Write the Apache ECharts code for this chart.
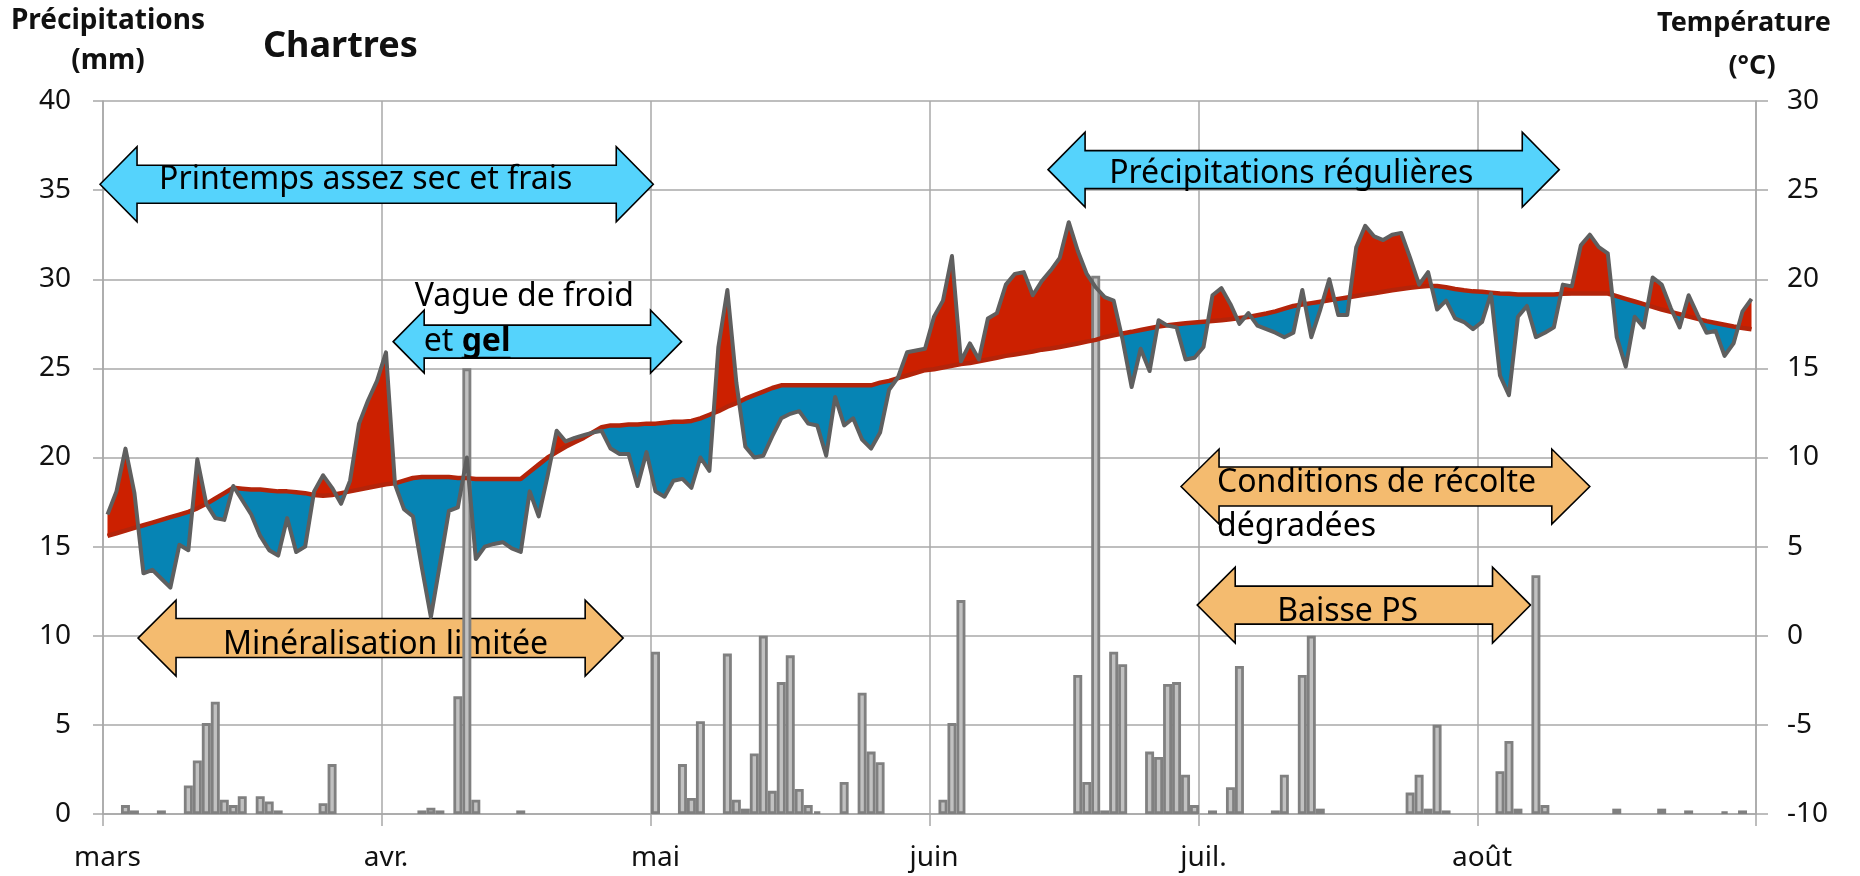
<!DOCTYPE html>
<html lang="fr">
<head>
<meta charset="utf-8">
<title>Chartres - précipitations et températures</title>
<script src="https://cdn.jsdelivr.net/npm/echarts@6/dist/echarts.min.js"></script>
<style>
  html, body { margin: 0; padding: 0; background: #fff; }
  #chart { width: 1860px; height: 876px; }
</style>
</head>
<body>
<div id="chart"></div>
<script>
// mois affichés et nombre de jours
const months = ['mars', 'avr.', 'mai', 'juin', 'juil.', 'août'];
const monthDays = [31, 30, 31, 30, 31, 31];

// précipitations journalières (mm)
const rainMar = [0, 0, 0.5, 0.2, 0, 0, 0.2, 0, 0, 1.6, 3.0, 5.1, 6.3, 0.8, 0.5, 1.0, 0, 1.0, 0.7, 0.2, 0, 0, 0, 0, 0.6, 2.8, 0, 0, 0, 0, 0];
const rainApr = [0, 0, 0, 0, 0.2, 0.35, 0.2, 0, 6.6, 25.0, 0.8, 0, 0, 0, 0, 0.2, 0, 0, 0, 0, 0, 0, 0, 0, 0, 0, 0, 0, 0, 0];
const rainMay = [9.1, 0, 0, 2.8, 0.9, 5.2, 0, 0, 9.0, 0.8, 0.3, 3.4, 10.0, 1.3, 7.4, 8.9, 1.4, 0.5, 0.15, 0, 0, 1.8, 0, 6.8, 3.5, 2.9, 0, 0, 0, 0, 0];
const rainJun = [0, 0.8, 5.1, 12.0, 0, 0, 0, 0, 0, 0, 0, 0, 0, 0, 0, 0, 7.8, 1.8, 30.2, 0.2, 9.1, 8.4, 0, 0, 3.5, 3.2, 7.3, 7.4, 2.2, 0.5];
const rainJul = [0, 0.2, 0, 1.5, 8.3, 0, 0, 0, 0.2, 2.2, 0, 7.8, 10.0, 0.3, 0, 0, 0, 0, 0, 0, 0, 0, 0, 1.2, 2.2, 0.3, 5.0, 0.2, 0, 0, 0];
const rainAug = [0, 0, 2.4, 4.1, 0.3, 0, 13.4, 0.5, 0, 0, 0, 0, 0, 0, 0, 0.3, 0, 0, 0, 0, 0.3, 0, 0, 0.2, 0, 0, 0, 0.15, 0, 0.2, 0];

// température moyenne journalière (°C)
const tempMar = [6.8, 8.1, 10.5, 8.0, 3.5, 3.7, 3.2, 2.7, 5.1, 4.8, 9.9, 7.4, 6.6, 6.5, 8.4, 7.6, 6.8, 5.6, 4.8, 4.5, 6.6, 4.7, 5.0, 8.1, 9.0, 8.3, 7.4, 8.7, 11.9, 13.2, 14.3];
const tempApr = [15.9, 8.5, 7.1, 6.7, 3.8, 1.05, 4.0, 7.0, 7.2, 10.0, 4.3, 5.0, 5.15, 5.25, 4.9, 4.7, 8.1, 6.7, 9.0, 11.5, 10.9, 11.1, 11.25, 11.4, 11.5, 10.5, 10.2, 10.2, 8.4, 10.3];
const tempMay = [8.1, 7.8, 8.7, 8.8, 8.3, 10.0, 9.25, 16.2, 19.4, 14.2, 10.6, 10.0, 10.1, 11.2, 12.2, 12.45, 12.6, 11.9, 11.8, 10.1, 13.4, 11.8, 12.2, 11.0, 10.5, 11.4, 13.8, 14.5, 15.9, 16.0, 16.1];
const tempJun = [17.9, 18.8, 21.3, 15.4, 16.4, 15.5, 17.8, 18.1, 19.7, 20.3, 20.4, 19.1, 19.9, 20.5, 21.2, 23.2, 21.6, 20.3, 19.55, 19.0, 18.8, 16.6, 13.95, 16.1, 14.85, 17.7, 17.4, 17.3, 15.5, 15.6];
const tempJul = [16.2, 19.1, 19.5, 18.6, 17.5, 18.1, 17.4, 17.2, 17.0, 16.75, 17.0, 19.4, 16.75, 18.3, 20.0, 18.0, 18.0, 21.8, 23.0, 22.4, 22.2, 22.5, 22.6, 21.2, 19.7, 20.4, 18.3, 18.8, 17.8, 17.6, 17.2];
const tempAug = [17.6, 19.2, 14.6, 13.5, 17.9, 18.5, 16.75, 17.0, 17.3, 19.7, 19.6, 21.9, 22.5, 21.8, 21.45, 16.75, 15.1, 17.9, 17.3, 20.1, 19.7, 18.4, 17.3, 19.1, 18.0, 17.0, 17.1, 15.7, 16.4, 18.2, 18.9];

// normale de température (°C)
const normMar = [5.6, 5.75, 5.9, 6.05, 6.2, 6.35, 6.5, 6.65, 6.8, 6.95, 7.15, 7.4, 7.7, 8.0, 8.3, 8.25, 8.2, 8.2, 8.15, 8.1, 8.1, 8.05, 8.0, 7.9, 7.85, 7.9, 8.0, 8.1, 8.2, 8.3, 8.4];
const normApr = [8.5, 8.55, 8.7, 8.85, 8.9, 8.9, 8.9, 8.9, 8.85, 8.85, 8.8, 8.8, 8.8, 8.8, 8.8, 8.8, 9.2, 9.6, 10.0, 10.3, 10.6, 10.85, 11.1, 11.4, 11.7, 11.8, 11.8, 11.85, 11.85, 11.9];
const normMay = [11.9, 11.95, 12.0, 12.0, 12.05, 12.2, 12.4, 12.6, 12.85, 13.05, 13.3, 13.5, 13.7, 13.9, 14.05, 14.05, 14.05, 14.05, 14.05, 14.05, 14.05, 14.05, 14.05, 14.05, 14.05, 14.2, 14.3, 14.45, 14.6, 14.75, 14.9];
const normJun = [14.95, 15.05, 15.15, 15.25, 15.3, 15.4, 15.5, 15.6, 15.7, 15.78, 15.86, 15.95, 16.05, 16.12, 16.2, 16.3, 16.4, 16.5, 16.6, 16.75, 16.86, 16.96, 17.05, 17.15, 17.25, 17.35, 17.42, 17.48, 17.53, 17.58];
const normJul = [17.62, 17.66, 17.7, 17.76, 17.82, 17.88, 17.98, 18.08, 18.2, 18.35, 18.5, 18.58, 18.66, 18.74, 18.82, 18.9, 18.98, 19.06, 19.14, 19.22, 19.3, 19.38, 19.45, 19.52, 19.58, 19.62, 19.62, 19.55, 19.45, 19.38, 19.32];
const normAug = [19.3, 19.25, 19.2, 19.18, 19.15, 19.15, 19.15, 19.15, 19.15, 19.18, 19.2, 19.2, 19.2, 19.2, 19.2, 19.05, 18.9, 18.75, 18.6, 18.45, 18.3, 18.17, 18.04, 17.9, 17.78, 17.65, 17.55, 17.45, 17.35, 17.27, 17.2];

// graduations des axes
const rainTicks = [0, 5, 10, 15, 20, 25, 30, 35, 40];
const tempTicks = [-10, -5, 0, 5, 10, 15, 20, 25, 30];

const rain = [].concat(rainMar, rainApr, rainMay, rainJun, rainJul, rainAug);
const temp = [].concat(tempMar, tempApr, tempMay, tempJun, tempJul, tempAug);
const norm = [].concat(normMar, normApr, normMay, normJun, normJul, normAug);

// une catégorie par jour, étiquette seulement le 1er du mois
const days = [];
months.forEach((m, i) => {
    for (let d = 1; d <= monthDays[i]; d++) days.push(i + '-' + d);
});
const isMonthStart = (idx, val) => String(val).split('-')[1] === '1';

const FONT = '"Noto Sans", "DejaVu Sans", sans-serif';
const WARM = '#cc2000';
const COLD = '#0684b4';
const CYAN = '#55d3fc';
const ORANGE = '#f4bb6f';
const GRID = '#a8a8a8';

// découpe en plages au-dessus / en dessous de la normale (croisements inclus)
const runs = [];
(function () {
    let cur = null;
    for (let i = 0; i < temp.length; i++) {
        const d = temp[i] - norm[i];
        const s = d >= 0 ? 1 : -1;
        if (!cur) { cur = { s: s, pts: [[i, temp[i], norm[i]]] }; continue; }
        if (s !== cur.s) {
            const pd = temp[i - 1] - norm[i - 1];
            const t = pd / (pd - d);
            const v = temp[i - 1] + t * (temp[i] - temp[i - 1]);
            cur.pts.push([i - 1 + t, v, v]);
            runs.push(cur);
            cur = { s: s, pts: [[i - 1 + t, v, v]] };
        }
        cur.pts.push([i, temp[i], norm[i]]);
    }
    runs.push(cur);
})();

// flèches d'annotation (position en jours / mm)
const notes = [
    { from: -0.83, to: 60.75, y: 35.33, fill: CYAN, h: 75, shaft: 38, head: 37,
      lines: [{ at: [5.74, 35.56], parts: [{ t: 'Printemps assez sec et frais' }] }] },
    { from: 31.8, to: 63.9, y: 26.5, fill: CYAN, h: 63, shaft: 33, head: 31,
      lines: [{ at: [34.2, 29.0], parts: [{ t: 'Vague de froid' }] },
              { at: [35.2, 26.5], parts: [{ t: 'et ' }, { t: 'gel', bold: true, underline: true }] }] },
    { from: 3.4, to: 57.4, y: 9.87, fill: ORANGE, h: 76, shaft: 39, head: 38,
      lines: [{ at: [12.86, 9.48], parts: [{ t: 'Minéralisation limitée' }] }] },
    { from: 104.7, to: 161.6, y: 36.15, fill: CYAN, h: 75, shaft: 38, head: 37,
      lines: [{ at: [111.5, 35.9], parts: [{ t: 'Précipitations régulières' }] }] },
    { from: 119.5, to: 165.0, y: 18.37, fill: ORANGE, h: 75, shaft: 39, head: 38,
      lines: [{ at: [123.5, 18.56], parts: [{ t: 'Conditions de récolte' }] },
              { at: [123.5, 16.1], parts: [{ t: 'dégradées' }] }] },
    { from: 121.3, to: 158.4, y: 11.72, fill: ORANGE, h: 76, shaft: 38, head: 38,
      lines: [{ at: [130.2, 11.33], parts: [{ t: 'Baisse PS' }] }] }
];

const NOTE_SIZE = 32;
const measureCtx = document.createElement('canvas').getContext('2d');
function textWidth(str, bold) {
    measureCtx.font = (bold ? 'bold ' : '') + NOTE_SIZE + 'px ' + FONT;
    return measureCtx.measureText(str).width;
}

function renderNote(params, api) {
    const n = notes[params.dataIndex];
    const bw = api.size([1, 0])[0];
    const origin = api.coord([0, n.y]);
    const xAt = k => origin[0] + k * bw;
    const x0 = xAt(n.from), x1 = xAt(n.to), cy = origin[1];
    const hh = n.h / 2, hs = n.shaft / 2;
    const children = [{
        type: 'polygon',
        shape: { points: [
            [x0, cy], [x0 + n.head, cy - hh], [x0 + n.head, cy - hs], [x1 - n.head, cy - hs],
            [x1 - n.head, cy - hh], [x1, cy], [x1 - n.head, cy + hh], [x1 - n.head, cy + hs],
            [x0 + n.head, cy + hs], [x0 + n.head, cy + hh]
        ] },
        style: { fill: n.fill, stroke: '#000', lineWidth: 1.6, lineJoin: 'miter' }
    }];
    n.lines.forEach(line => {
        let x = origin[0] + line.at[0] * bw;
        const y = api.coord([0, line.at[1]])[1];
        line.parts.forEach(p => {
            const w = textWidth(p.t, p.bold);
            children.push({
                type: 'text',
                style: {
                    text: p.t, x: x, y: y, fill: '#000',
                    fontSize: NOTE_SIZE, fontFamily: FONT, fontWeight: p.bold ? 'bold' : 'normal',
                    align: 'left', verticalAlign: 'middle'
                }
            });
            if (p.underline) {
                children.push({
                    type: 'line',
                    shape: { x1: x, y1: y + 16, x2: x + w, y2: y + 16 },
                    style: { stroke: '#000', lineWidth: 2 }
                });
            }
            x += w;
        });
    });
    return { type: 'group', children: children };
}

// une surface par plage : rouge au-dessus de la normale, bleu en dessous
function renderGap(params, api) {
    const r = runs[params.dataIndex];
    const bw = api.size([1, 0])[0];
    const x0 = api.coord([0, 0])[0];
    const pt = (x, v) => [x0 + x * bw, api.coord([0, v])[1]];
    const upper = r.pts.map(p => pt(p[0], p[1]));
    const lower = r.pts.map(p => pt(p[0], p[2])).reverse();
    return {
        type: 'polygon',
        shape: { points: upper.concat(lower) },
        style: { fill: r.s > 0 ? WARM : COLD }
    };
}

const chart = echarts.init(document.getElementById('chart'));

chart.setOption({
    animation: false,
    backgroundColor: '#fff',
    textStyle: { fontFamily: FONT },
    grid: { left: 103, right: 104, top: 101, bottom: 62 },
    graphic: [
        { type: 'text', x: 108, y: 21, style: { text: 'Précipitations', fontSize: 28, fontWeight: 'bold', fontFamily: FONT, fill: '#111', align: 'center', verticalAlign: 'middle' } },
        { type: 'text', x: 108, y: 61, style: { text: '(mm)', fontSize: 28, fontWeight: 'bold', fontFamily: FONT, fill: '#111', align: 'center', verticalAlign: 'middle' } },
        { type: 'text', x: 1744, y: 23, style: { text: 'Température', fontSize: 27, fontWeight: 'bold', fontFamily: FONT, fill: '#111', align: 'center', verticalAlign: 'middle' } },
        { type: 'text', x: 1752, y: 66, style: { text: '(°C)', fontSize: 27, fontWeight: 'bold', fontFamily: FONT, fill: '#111', align: 'center', verticalAlign: 'middle' } },
        { type: 'text', x: 263, y: 47, style: { text: 'Chartres', fontSize: 36, fontWeight: 'bold', fontFamily: FONT, fill: '#111', align: 'left', verticalAlign: 'middle' } }
    ],
    xAxis: {
        type: 'category',
        data: days,
        boundaryGap: true,
        axisLine: { show: true, lineStyle: { color: GRID, width: 1.5 } },
        axisTick: { show: true, interval: isMonthStart, length: 12, lineStyle: { color: GRID, width: 1.5 } },
        splitLine: { show: true, interval: isMonthStart, lineStyle: { color: GRID, width: 1.5 } },
        axisLabel: {
            interval: isMonthStart,
            formatter: v => months[+String(v).split('-')[0]],
            fontSize: 28, color: '#111', margin: 30
        }
    },
    yAxis: [{
        type: 'value',
        min: rainTicks[0], max: rainTicks[rainTicks.length - 1], interval: 5,
        axisLine: { show: true, lineStyle: { color: GRID, width: 1.5 } },
        axisTick: { show: true, length: 10, lineStyle: { color: GRID, width: 1.5 } },
        splitLine: { show: true, lineStyle: { color: GRID, width: 1.5 } },
        axisLabel: { fontSize: 28, color: '#111', margin: 32 }
    }, {
        type: 'value',
        min: tempTicks[0], max: tempTicks[tempTicks.length - 1], interval: 5,
        axisLine: { show: true, lineStyle: { color: GRID, width: 1.5 } },
        axisTick: { show: true, length: 12, lineStyle: { color: GRID, width: 1.5 } },
        splitLine: { show: false },
        axisLabel: { fontSize: 28, color: '#111', margin: 31 }
    }],
    series: [{
        name: 'annotations',
        type: 'custom',
        z: 1,
        yAxisIndex: 0,
        renderItem: renderNote,
        data: notes.map((n, i) => [i, n.y]),
        encode: { x: 0, y: 1 },
        silent: true
    }, {
        name: 'écart à la normale',
        type: 'custom',
        z: 2,
        yAxisIndex: 1,
        renderItem: renderGap,
        data: runs.map(r => [Math.round(r.pts[0][0]), r.pts[0][1]]),
        encode: { x: 0, y: 1 },
        silent: true
    }, {
        name: 'Précipitations',
        type: 'bar',
        z: 3,
        yAxisIndex: 0,
        data: rain.map(v => (v === 0 ? '-' : v)),
        barCategoryGap: '0%',
        itemStyle: { color: '#c1c1c1', borderColor: '#808080', borderWidth: 2.8 }
    }, {
        name: 'Normale',
        type: 'line',
        z: 4,
        yAxisIndex: 1,
        data: norm,
        showSymbol: false,
        lineStyle: { color: '#b3240a', width: 4.5 }
    }, {
        name: 'Température',
        type: 'line',
        z: 5,
        yAxisIndex: 1,
        data: temp,
        showSymbol: false,
        lineStyle: { color: '#5f5f5f', width: 4, join: 'round' }
    }]
});
</script>
</body>
</html>
